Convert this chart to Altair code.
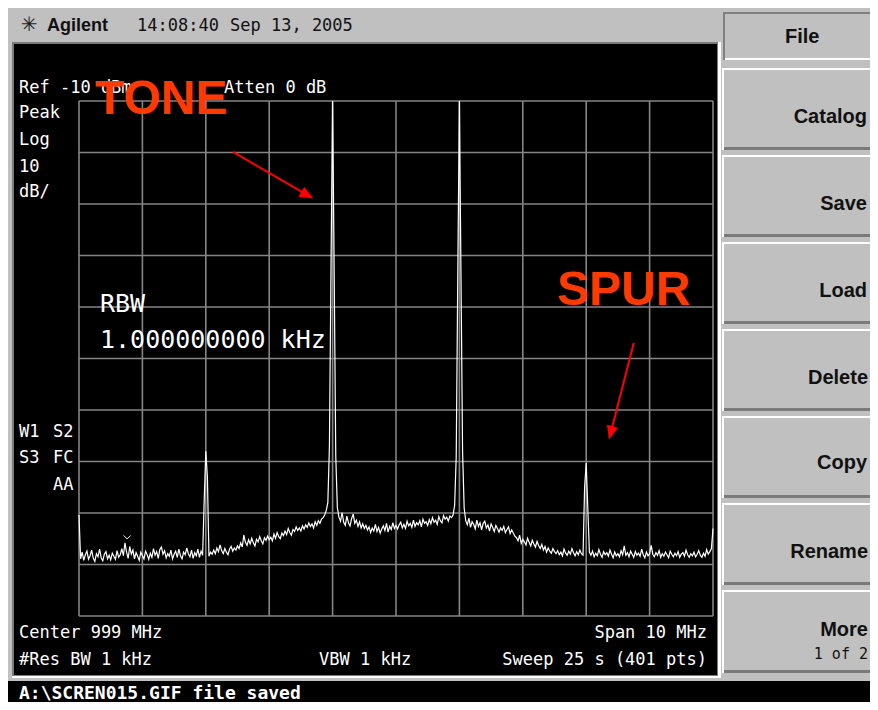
import altair as alt
import numpy as np
import pandas as pd

# ---------------- instrument settings ----------------
center_mhz = 999.0
span_mhz = 10.0
ref_dbm = -10.0
db_per_div = 10.0

# ---------------- trace (401 points, dBm) ----------------
trace_start = [-90.4]
noise_a = [
    -98.9, -97.6, -99.2, -98.1, -97.4, -99.0, -98.3, -97.2, -98.8, -99.4, -97.9, -98.5, -97.0, -98.7, -99.3, -98.0, -97.5, -98.9, -98.2, -99.1,
    -97.8, -98.4, -99.0, -97.3, -98.6, -98.1, -96.9, -98.3, -95.8, -97.6, -98.8, -96.5, -98.0, -97.2, -98.9, -97.7, -98.4, -99.2, -97.6, -98.3,
    -98.9, -97.4, -98.1, -99.0, -97.8, -98.6, -96.9, -98.2, -97.5, -98.8, -97.1, -96.6, -98.0, -97.3, -98.7, -97.9, -98.4, -97.2, -98.9, -98.0,
    -97.4, -98.6, -97.0, -98.3, -98.9, -97.6, -98.1, -96.8, -97.9, -98.5, -97.2, -98.8, -97.7, -98.3, -97.0, -98.6, -97.4, -98.2,
]
spur_1 = [-87.5, -78.0, -83.0]
noise_b = [
    -98.4, -97.6, -98.0, -97.2, -97.9, -96.8, -97.5, -96.2, -97.3, -97.9, -96.9, -97.6, -98.1, -97.0, -96.5, -97.4, -96.8, -97.2, -96.4,
    -96.9, -95.8, -96.6, -94.3, -95.7, -96.3, -95.2, -96.0, -94.9, -95.8, -96.4, -95.1, -95.6, -94.6, -95.4, -96.0, -94.8, -95.3, -94.5, -95.2,
    -94.7, -95.4, -94.1, -94.9, -93.8, -94.6, -95.0, -93.9, -94.4, -93.5, -94.2, -93.0, -93.8, -94.3, -93.2, -93.6, -92.7, -93.4, -92.9, -93.5,
    -92.5, -93.1, -92.3, -92.8, -91.9, -92.6, -92.1, -92.9, -91.7, -92.4, -91.5, -92.0, -91.2, -90.9, -90.4,
]
tone_1 = [-89.5, -88.0, -77.0, -42.0, -10.0, -43.5, -79.0, -89.0]
noise_c = [
    -90.8, -91.6, -89.9, -91.8, -92.4, -90.6, -91.9, -92.5, -91.1, -90.2, -92.0, -91.4, -92.6, -91.7, -92.9, -92.1, -93.0,
    -92.4, -93.3, -92.7, -93.8, -92.9, -93.5, -92.2, -93.6, -92.8, -93.9, -93.1, -92.5, -93.4, -92.0, -93.7, -92.6, -93.2, -91.9, -93.0, -92.4,
    -93.1, -92.3, -91.8, -92.9, -92.2, -93.0, -91.6, -92.5, -92.0, -92.8, -91.4, -92.6, -91.9, -92.3, -91.5, -92.7, -91.2, -92.0, -91.7, -92.4,
    -91.3, -92.1, -90.9, -91.8, -91.4, -92.2, -90.7, -91.5, -91.9, -90.5, -91.2, -90.8, -91.6, -90.6, -90.9, -90.4,
]
tone_2 = [-88.5, -79.0, -43.0, -10.0, -44.0, -78.0, -89.0]
noise_d = [
    -91.5, -92.3, -91.0, -92.8, -91.7, -92.2, -93.1, -91.4, -92.6, -91.9, -93.3, -92.0, -91.6, -92.9, -92.3, -93.5, -92.1, -92.8, -93.6, -92.4, -93.0, -93.7,
    -92.9, -93.4, -92.6, -93.8, -93.2, -92.7, -94.0, -93.3, -93.9, -94.5,
    -94.8, -95.4, -94.3, -95.9, -95.1, -95.6, -96.2, -94.9, -95.7, -96.4, -95.3, -96.0, -96.6, -95.5, -96.3,
    -96.9, -96.1, -97.2, -96.5, -97.6, -96.8, -97.4, -97.8, -96.9, -97.5,
    -97.9, -97.3, -98.1, -97.6, -98.3, -97.0, -97.8, -98.2, -97.4, -98.0, -96.9, -97.7, -98.3, -97.5, -98.1, -97.2, -97.9, -98.2,
]
spur_2 = [-85.0, -80.3, -89.0]
noise_e = [
    -97.6, -98.2, -97.4, -98.5, -97.8, -98.3, -97.1, -98.0, -98.6, -97.5, -98.1, -97.7, -98.4, -97.2, -98.0, -98.7, -97.6, -98.3, -97.9,
    -98.5, -97.3, -98.1, -96.4, -98.2, -97.7, -98.5, -97.4, -98.0, -98.6, -97.5, -98.2, -97.8, -98.4, -97.0, -98.1, -98.7, -97.6, -98.3, -97.9,
    -96.3, -98.0, -98.5, -97.7, -98.2, -97.3, -98.6, -97.9, -98.4, -97.6, -98.1, -98.7, -97.4, -98.0, -98.5, -97.8, -98.3, -97.5, -98.6, -98.0,
    -97.7, -98.4, -97.2, -98.1, -98.6, -97.9, -98.3, -97.6, -98.5, -98.0, -97.3, -98.2, -98.6, -97.8, -98.4, -97.1, -98.0, -97.5, -96.9,
]
trace_end = [-93.0]

trace_dbm = (trace_start + noise_a + spur_1 + noise_b + tone_1 + noise_c
             + tone_2 + noise_d + spur_2 + noise_e + trace_end)

grid_freqs = [994, 995, 996, 997, 998, 999, 1000, 1001, 1002, 1003, 1004]
grid_levels = [-10, -20, -30, -40, -50, -60, -70, -80, -90, -100, -110]

# annotation arrows (data coordinates: MHz, dBm)
arrow_label = ["TONE", "SPUR"]
arrow_f_start = [996.43, 1002.75]
arrow_db_start = [-19.9, -57.0]
arrow_f_head = [997.59, 1002.39]
arrow_db_head = [-28.2, -74.3]
arrow_angle = [119.9, 194.6]

marker_f = [994.76]
marker_db = [-94.7]

# ---------------- layout ----------------
W, H = 862, 694
PX0, PX1 = 71, 705
PY0, PY1 = 93, 608
GRID = "#858585"
PANEL = "#c0c0c0"

f0 = center_mhz - span_mhz / 2
f1 = center_mhz + span_mhz / 2
bottom_dbm = ref_dbm - 10 * db_per_div

freq = np.linspace(f0, f1, len(trace_dbm))
trace_df = pd.DataFrame({"freq": freq, "dbm": trace_dbm})

xs = alt.Scale(domain=[f0, f1], range=[PX0, PX1], nice=False, zero=False)
ys = alt.Scale(domain=[bottom_dbm, ref_dbm], range=[PY1, PY0], nice=False, zero=False)

# chrome rectangles (pixel space)
rect_rows = []
rect_rows += [
    (4, 711, 34, 668, "#7a7a7a"),
    (710, 713, 34, 670, "#ffffff"),
    (4, 713, 668, 670, "#ffffff"),
    (6, 709, 36, 667, "#000000"),
    (0, 870, 673, 702, "#000000"),
    # File header (sunken)
    (715, 872, 4, 52, "#808080"),
    (717, 872, 6, 52, "#ffffff"),
    (717, 872, 6, 50, PANEL),
]
button_y = [(60, 142), (147, 229), (234, 316), (321, 403), (408, 490), (495, 577), (582, 665)]
for y0, y1 in button_y:
    rect_rows += [
        (714, 872, y0, y1, "#ffffff"),
        (716, 872, y0 + 2, y1, "#7a7a7a"),
        (716, 872, y0 + 2, y1 - 3, PANEL),
    ]
rect_df = pd.DataFrame(rect_rows, columns=["x", "x2", "y", "y2", "fill"])
rect_df["order"] = range(len(rect_df))

chrome = alt.Chart(rect_df).mark_rect().encode(
    x=alt.X("x:Q", scale=None), x2="x2:Q",
    y=alt.Y("y:Q", scale=None), y2="y2:Q",
    color=alt.Color("fill:N", scale=None),
    order="order:Q",
)

vgrid = alt.Chart(pd.DataFrame({"f": grid_freqs})).mark_rule(color=GRID, strokeWidth=1.6).encode(
    x=alt.X("f:Q", scale=xs, axis=None), y=alt.value(PY0), y2=alt.value(PY1))
hgrid = alt.Chart(pd.DataFrame({"d": grid_levels})).mark_rule(color=GRID, strokeWidth=1.6).encode(
    y=alt.Y("d:Q", scale=ys, axis=None), x=alt.value(PX0), x2=alt.value(PX1))

trace = alt.Chart(trace_df).mark_line(color="#ffffff", strokeWidth=1.2).encode(
    x=alt.X("freq:Q", scale=xs, axis=None), y=alt.Y("dbm:Q", scale=ys, axis=None))

marker = alt.Chart(pd.DataFrame({"f": marker_f, "d": marker_db})).mark_point(
    shape="M-1,-0.5L0,0.5L1,-0.5", filled=False, color="#ffffff", size=50, strokeWidth=1, opacity=1
).encode(x=alt.X("f:Q", scale=xs, axis=None), y=alt.Y("d:Q", scale=ys, axis=None))

arrow_df = pd.DataFrame({"label": arrow_label, "fs": arrow_f_start, "ds": arrow_db_start,
                         "fh": arrow_f_head, "dh": arrow_db_head, "ang": arrow_angle})
arrow_lines = alt.Chart(arrow_df).mark_rule(color="#ff0000", strokeWidth=2).encode(
    x=alt.X("fs:Q", scale=xs, axis=None), y=alt.Y("ds:Q", scale=ys, axis=None),
    x2="fh:Q", y2="dh:Q")
arrow_heads = alt.Chart(arrow_df).mark_point(
    shape="M0,-1L0.75,0.8L-0.75,0.8Z", filled=True, color="#ff0000", size=230, opacity=1
).encode(x=alt.X("fh:Q", scale=xs, axis=None), y=alt.Y("dh:Q", scale=ys, axis=None),
         angle=alt.Angle("ang:Q", scale=None))


def text_layer(rows, **kw):
    df = pd.DataFrame(rows, columns=["t", "x", "y"])
    return alt.Chart(df).mark_text(baseline="alphabetic", **kw).encode(
        x=alt.X("x:Q", scale=None), y=alt.Y("y:Q", scale=None), text="t:N")


MONO = "DejaVu Sans Mono"
SANS = "Liberation Sans"

screen_left = text_layer([
    ("Ref -10 dBm", 11, 85), ("Atten 0 dB", 216, 85),
    ("Peak", 11, 110), ("Log", 11, 137), ("10", 11, 164), ("dB/", 11, 189),
    ("W1", 11, 429), ("S2", 45, 429), ("S3", 11, 455), ("FC", 45, 455), ("AA", 45, 482),
    ("Center 999 MHz", 11, 630), ("#Res BW 1 kHz", 11, 657), ("VBW 1 kHz", 311, 657),
], font=MONO, fontSize=17, color="#ffffff", align="left")
screen_right = text_layer([
    ("Span 10 MHz", 699, 630), ("Sweep 25 s (401 pts)", 699, 657),
], font=MONO, fontSize=17, color="#ffffff", align="right")
rbw = text_layer([
    ("RBW", 92, 304), ("1.000000000 kHz", 92, 340),
], font=MONO, fontSize=25, color="#ffffff", align="left")

brand = text_layer([("Agilent", 39, 23)], font=SANS, fontSize=18, fontWeight="bold",
                   color="#111111", align="left")
clock = text_layer([("14:08:40", 129, 23), ("Sep 13, 2005", 222, 23)], font=MONO, fontSize=17,
                   color="#111111", align="left")
logo = text_layer([("\u2733", 21, 23)], font="DejaVu Sans", fontSize=20, color="#222222",
                  align="center")

file_key = text_layer([("File", 777, 35)], font=SANS, fontSize=20, fontWeight="bold",
                      color="#111111", align="left")
keys = text_layer([
    ("Catalog", 859, 115), ("Save", 859, 202), ("Load", 859, 289),
    ("Delete", 860, 376), ("Copy", 859, 461), ("Rename", 860, 550), ("More", 860, 628),
], font=SANS, fontSize=20, fontWeight="bold", color="#111111", align="right")
more_sub = text_layer([("1 of 2", 860, 651)], font=MONO, fontSize=15, color="#111111", align="right")

status = text_layer([("A:\\SCREN015.GIF file saved", 11, 691)], font=MONO, fontSize=18,
                    fontWeight="bold", color="#ffffff", align="left")

callouts = text_layer([("TONE", 87, 106), ("SPUR", 549, 297)], font=SANS, fontSize=48,
                      fontWeight="bold", color="#ff3a00", align="left")

chart = alt.layer(
    chrome, vgrid, hgrid, trace, marker,
    screen_left, screen_right, rbw,
    brand, clock, logo, file_key, keys, more_sub, status,
    arrow_lines, arrow_heads, callouts,
).resolve_scale(
    x="independent", y="independent", color="independent", angle="independent"
).properties(
    width=W, height=H, padding=0, autosize="none", background=PANEL
).configure_view(stroke=None)

chart.save("out.html", embed_options={"renderer": "svg", "actions": False})
